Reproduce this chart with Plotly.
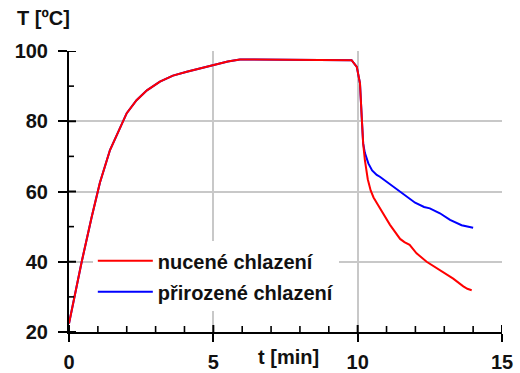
import plotly.graph_objects as go

# Shared heating phase (both series identical)
heat_t = [0, 0.2, 0.44, 0.78, 1.07, 1.42, 1.75, 2.0, 2.34, 2.7, 3.15, 3.6, 4.08, 4.5,
          5.0, 5.5, 5.92, 7.0, 8.0, 9.0, 9.6, 9.79, 9.97, 10.08, 10.14, 10.19]
heat_T = [22.4, 30.5, 40.0, 52.5, 62.5, 71.8, 78.0, 82.3, 86.0, 88.8, 91.3, 93.0, 94.1, 95.0,
          96.0, 97.0, 97.6, 97.6, 97.6, 97.6, 97.6, 97.4, 95.5, 90.8, 81.3, 73.7]

# Forced cooling (nucené chlazení)
forced_t = [10.25, 10.35, 10.45, 10.55, 10.7, 11.12, 11.47, 11.62, 11.8, 12.04, 12.39,
            12.85, 13.31, 13.66, 13.8, 13.95]
forced_T = [68.9, 63.5, 60.3, 58.3, 56.2, 50.5, 46.5, 45.6, 44.8, 42.4, 40.0,
            37.6, 35.2, 33.0, 32.3, 31.9]

# Natural cooling (přirozené chlazení)
natural_t = [10.25, 10.37, 10.5, 10.66, 10.77, 11.0, 11.47, 11.99, 12.3, 12.5, 12.85,
             13.2, 13.6, 14.0]
natural_T = [71.0, 68.0, 66.0, 64.7, 64.2, 62.8, 60.0, 56.8, 55.6, 55.2, 53.8,
             51.9, 50.4, 49.7]

series_names = ["nucené chlazení", "přirozené chlazení"]
x_ticks = [0, 5, 10, 15]
y_ticks = [20, 40, 60, 80, 100]
x_inner_ticks = list(range(0, 16))          # every minute
y_inner_ticks = list(range(20, 101, 10))    # every 10 degrees
x_title = "t [min]"
y_title = "T [ºC]"

FONT = "Liberation Sans, Arial, sans-serif"
txt = dict(family=FONT, size=20, color="#111111", weight="bold")

W, H = 520, 373
ML, MR, MT, MB = 69, 18, 51, 41
PW, PH = W - ML - MR, H - MT - MB

fig = go.Figure()
fig.add_trace(go.Scatter(x=heat_t + natural_t, y=heat_T + natural_T, mode="lines",
                         name=series_names[1], line=dict(color="#0000ff", width=2),
                         legendrank=2, legendgroup="b"))
fig.add_trace(go.Scatter(x=heat_t + forced_t, y=heat_T + forced_T, mode="lines",
                         name=series_names[0], line=dict(color="#ff0000", width=2),
                         legendrank=1, legendgroup="a"))

# inner halves of the axis tick marks (ticks cross the axis line in the original)
shapes = []
for v in x_inner_ticks:
    major = v % 5 == 0
    shapes.append(dict(type="line", xref="x", yref="paper", x0=v, x1=v, y0=0,
                       y1=(7 if major else 6) / PH,
                       line=dict(color="black", width=2 if major else 1.6), layer="above"))
for v in y_inner_ticks:
    major = v % 20 == 0
    shapes.append(dict(type="line", xref="paper", yref="y", x0=0,
                       x1=(7 if major else 5) / PW, y0=v, y1=v,
                       line=dict(color="black", width=2 if major else 1.6), layer="above"))

grid = "#c8c8c8"
fig.update_layout(
    width=W, height=H,
    margin=dict(l=ML, r=MR, t=MT, b=MB, autoexpand=False),
    paper_bgcolor="white", plot_bgcolor="white",
    showlegend=True,
    legend=dict(x=0.055, y=0.323, xanchor="left", yanchor="top", bgcolor="white",
                font=txt, tracegroupgap=2, borderwidth=0, itemwidth=55),
    xaxis=dict(range=[0, 15], tickvals=x_ticks, ticks="outside",
               ticklen=8, tickwidth=2, automargin=False,
               tickcolor="black", showline=True, linecolor="black", linewidth=2,
               showgrid=True, gridcolor=grid, gridwidth=1.5, zeroline=False,
               tickfont=txt, ticklabelstandoff=3),
    yaxis=dict(range=[20, 100], tickvals=y_ticks, ticks="outside",
               ticklen=9, tickwidth=2, automargin=False,
               tickcolor="black", showline=True, linecolor="black", linewidth=2,
               showgrid=True, gridcolor=grid, gridwidth=1.5, zeroline=False,
               tickfont=txt, ticklabelstandoff=6),
    shapes=shapes,
    annotations=[
        dict(text=y_title, xref="paper", yref="paper", x=-0.125, y=1.117, xanchor="left",
             yanchor="middle", showarrow=False, font=txt),
        dict(text=x_title, xref="paper", yref="paper", x=0.508, y=-0.09, xanchor="center",
             yanchor="middle", showarrow=False, font=txt),
    ],
)

fig.write_html("out.html")
